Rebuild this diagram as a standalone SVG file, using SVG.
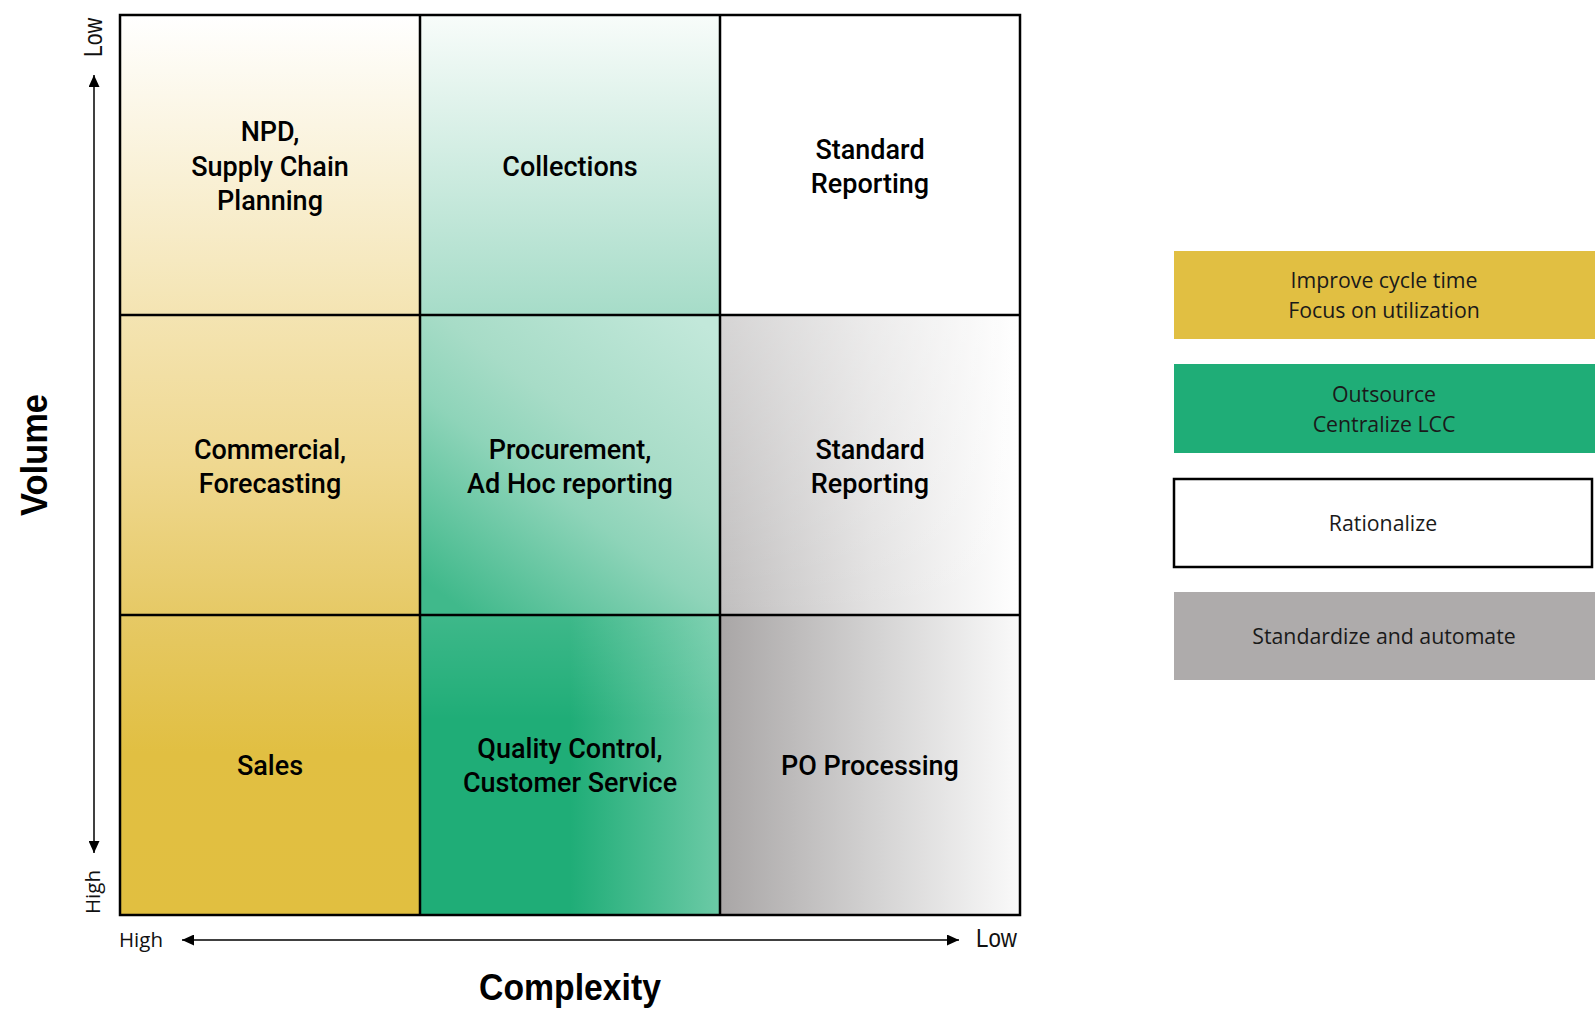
<svg xmlns="http://www.w3.org/2000/svg" width="1595" height="1032" viewBox="0 0 1595 1032">
  <style>
    .cell-label { font-family: Roboto, "Liberation Sans", sans-serif; font-weight: 500; font-size: 27px; fill: #000; text-anchor: middle; }
    .legend-label { font-family: "Open Sans", "Liberation Sans", sans-serif; font-size: 21.3px; fill: #1a1a1a; text-anchor: middle; }
    .axis-title { font-family: "Liberation Sans", Arial, sans-serif; font-weight: bold; font-size: 37px; fill: #000; text-anchor: middle; }
    .tick { font-family: "Open Sans", "Liberation Sans", sans-serif; font-size: 20.5px; fill: #111; }
    .tick-narrow { font-family: "Liberation Sans", Arial, sans-serif; font-size: 25px; fill: #111; }
    .axis { stroke: #000; stroke-width: 1.5; fill: none; }
    .grid { stroke: #000; stroke-width: 2.5; fill: none; }
  </style>
  <defs>
    <marker id="arrow" viewBox="0 0 10 10" refX="10" refY="5" markerWidth="12" markerHeight="11" markerUnits="userSpaceOnUse" orient="auto-start-reverse" preserveAspectRatio="none">
      <path d="M0,0 L10,5 L0,10 Z" fill="#000"/>
    </marker>
    <!-- column 1: white to gold, top to bottom -->
    <linearGradient id="gGold" gradientUnits="userSpaceOnUse" x1="0" y1="15" x2="0" y2="915">
      <stop offset="0" stop-color="#FFFFFF"/>
      <stop offset="0.333" stop-color="#F4E4B2"/>
      <stop offset="0.5" stop-color="#EFD890"/>
      <stop offset="0.667" stop-color="#E6C965"/>
      <stop offset="0.82" stop-color="#E1BF42"/>
      <stop offset="1" stop-color="#E1BF40"/>
    </linearGradient>
    <!-- column 2 -->
    <linearGradient id="gGreenTop" x1="0" y1="0" x2="0" y2="1">
      <stop offset="0" stop-color="#F8FCFA"/>
      <stop offset="1" stop-color="#A6DCC8"/>
    </linearGradient>
    <linearGradient id="gGreenMid" gradientUnits="userSpaceOnUse" x1="470" y1="615" x2="690" y2="315">
      <stop offset="0" stop-color="#40B98B"/>
      <stop offset="0.4" stop-color="#8ED4B9"/>
      <stop offset="0.6" stop-color="#A7DCC7"/>
      <stop offset="1" stop-color="#C2E8DA"/>
    </linearGradient>
    <linearGradient id="gGreenLow" x1="0" y1="0" x2="1" y2="0">
      <stop offset="0" stop-color="#1FAD77"/>
      <stop offset="0.5" stop-color="#1FAD77"/>
      <stop offset="1" stop-color="#6CCAA6"/>
    </linearGradient>
    <linearGradient id="gGreenLowHaze" x1="0" y1="0" x2="0" y2="1">
      <stop offset="0" stop-color="#FFFFFF" stop-opacity="0.14"/>
      <stop offset="0.35" stop-color="#FFFFFF" stop-opacity="0"/>
    </linearGradient>
    <!-- column 3 -->
    <linearGradient id="gGreyMid" x1="0" y1="0" x2="1" y2="0">
      <stop offset="0" stop-color="#C0BEBE"/>
      <stop offset="0.5" stop-color="#E2E1E1"/>
      <stop offset="1" stop-color="#FFFFFF"/>
    </linearGradient>
    <linearGradient id="gGreyMidHaze" x1="0" y1="0" x2="0" y2="1">
      <stop offset="0" stop-color="#FFFFFF" stop-opacity="0.35"/>
      <stop offset="1" stop-color="#FFFFFF" stop-opacity="0"/>
    </linearGradient>
    <linearGradient id="gGreyLow" x1="0" y1="0" x2="1" y2="0">
      <stop offset="0" stop-color="#A9A6A6"/>
      <stop offset="0.5" stop-color="#D2D1D1"/>
      <stop offset="1" stop-color="#FAFAFA"/>
    </linearGradient>
  </defs>

  <rect width="1595" height="1032" fill="#FFFFFF"/>

  <!-- matrix cells -->
  <g id="cell-npd">
    <rect x="120" y="15" width="300" height="300" fill="url(#gGold)"/>
    <text class="cell-label" x="270" y="141">NPD,</text>
    <text class="cell-label" x="270" y="176">Supply Chain</text>
    <text class="cell-label" x="270" y="210">Planning</text>
  </g>
  <g id="cell-commercial">
    <rect x="120" y="315" width="300" height="300" fill="url(#gGold)"/>
    <text class="cell-label" x="270" y="459">Commercial,</text>
    <text class="cell-label" x="270" y="493">Forecasting</text>
  </g>
  <g id="cell-sales">
    <rect x="120" y="615" width="300" height="300" fill="url(#gGold)"/>
    <text class="cell-label" x="270" y="775">Sales</text>
  </g>
  <g id="cell-collections">
    <rect x="420" y="15" width="300" height="300" fill="url(#gGreenTop)"/>
    <text class="cell-label" x="570" y="176">Collections</text>
  </g>
  <g id="cell-procurement">
    <rect x="420" y="315" width="300" height="300" fill="url(#gGreenMid)"/>
    <text class="cell-label" x="570" y="459">Procurement,</text>
    <text class="cell-label" x="570" y="493">Ad Hoc reporting</text>
  </g>
  <g id="cell-quality">
    <rect x="420" y="615" width="300" height="300" fill="url(#gGreenLow)"/>
    <rect x="420" y="615" width="300" height="300" fill="url(#gGreenLowHaze)"/>
    <text class="cell-label" x="570" y="758">Quality Control,</text>
    <text class="cell-label" x="570" y="792">Customer Service</text>
  </g>
  <g id="cell-reporting-top">
    <rect x="720" y="15" width="300" height="300" fill="#FFFFFF"/>
    <text class="cell-label" x="870" y="159">Standard</text>
    <text class="cell-label" x="870" y="193">Reporting</text>
  </g>
  <g id="cell-reporting-mid">
    <rect x="720" y="315" width="300" height="300" fill="url(#gGreyMid)"/>
    <rect x="720" y="315" width="300" height="300" fill="url(#gGreyMidHaze)"/>
    <text class="cell-label" x="870" y="459">Standard</text>
    <text class="cell-label" x="870" y="493">Reporting</text>
  </g>
  <g id="cell-po">
    <rect x="720" y="615" width="300" height="300" fill="url(#gGreyLow)"/>
    <text class="cell-label" x="870" y="775">PO Processing</text>
  </g>

  <!-- grid lines -->
  <g id="grid">
    <rect class="grid" x="120" y="15" width="900" height="900"/>
    <line class="grid" x1="420" y1="15" x2="420" y2="915"/>
    <line class="grid" x1="720" y1="15" x2="720" y2="915"/>
    <line class="grid" x1="120" y1="315" x2="1020" y2="315"/>
    <line class="grid" x1="120" y1="615" x2="1020" y2="615"/>
  </g>

  <!-- axes -->
  <g id="connectors">
    <line class="axis" x1="94" y1="853" x2="94" y2="75" marker-start="url(#arrow)" marker-end="url(#arrow)"/>
    <line class="axis" x1="182" y1="940" x2="959" y2="940" marker-start="url(#arrow)" marker-end="url(#arrow)"/>
  </g>

  <g id="axis-labels">
    <text class="tick-narrow" transform="translate(102,57) rotate(-90)" textLength="39" lengthAdjust="spacingAndGlyphs">Low</text>
    <text class="tick" transform="translate(100,914) rotate(-90)">High</text>
    <text class="tick" x="119" y="947">High</text>
    <text class="tick-narrow" x="976" y="947" textLength="41" lengthAdjust="spacingAndGlyphs">Low</text>
    <text class="axis-title" transform="translate(47,455) rotate(-90)" textLength="122" lengthAdjust="spacingAndGlyphs">Volume</text>
    <text class="axis-title" x="570" y="1000" textLength="182" lengthAdjust="spacingAndGlyphs">Complexity</text>
  </g>

  <!-- legend -->
  <g id="legend-cycle">
    <rect x="1174" y="251" width="421" height="88" fill="#E1BF42"/>
    <text class="legend-label" x="1384" y="288">Improve cycle time</text>
    <text class="legend-label" x="1384" y="318">Focus on utilization</text>
  </g>
  <g id="legend-outsource">
    <rect x="1174" y="364" width="421" height="89" fill="#1FAD77"/>
    <text class="legend-label" x="1384" y="402">Outsource</text>
    <text class="legend-label" x="1384" y="432">Centralize LCC</text>
  </g>
  <g id="legend-rationalize">
    <rect x="1174" y="479" width="418" height="88" fill="#FFFFFF" stroke="#000" stroke-width="2.5"/>
    <text class="legend-label" x="1383" y="531">Rationalize</text>
  </g>
  <g id="legend-standardize">
    <rect x="1174" y="592" width="421" height="88" fill="#AEABAB"/>
    <text class="legend-label" x="1384" y="644">Standardize and automate</text>
  </g>
</svg>
